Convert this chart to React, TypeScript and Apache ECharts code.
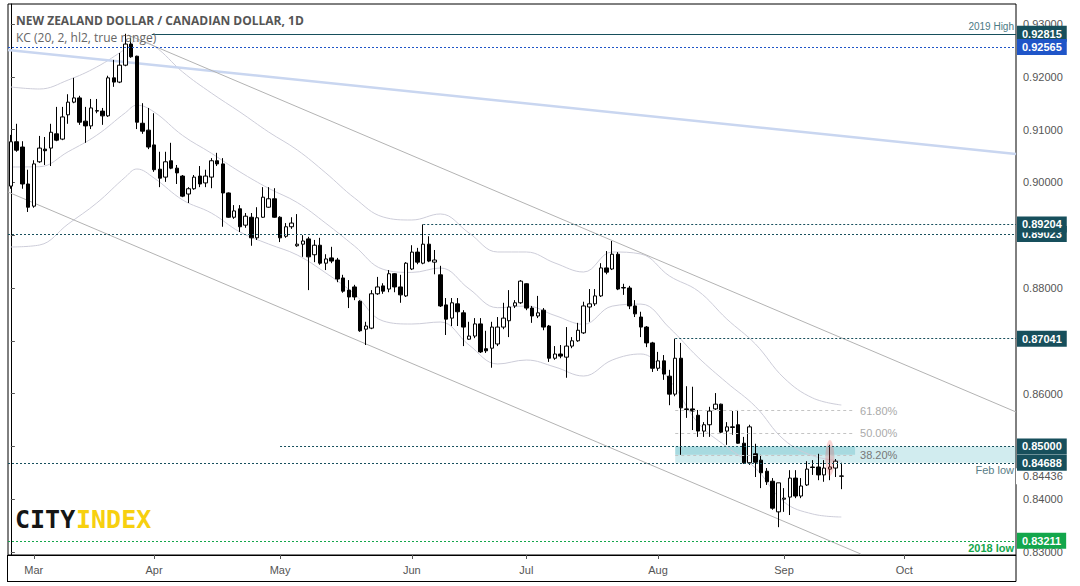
import React, { useEffect, useRef } from 'react';
import * as echarts from 'echarts';

// ---------- OHLC (daily, from Mon 25 Feb 2019) ----------
const OPEN = [
  0.8993, 0.9077, 0.9067, 0.8997, 0.8955, 0.9039, 0.9063, 0.9065, 0.9092, 0.9082,
  0.9128, 0.9152, 0.9160, 0.9116, 0.9107, 0.9135, 0.9135, 0.9126, 0.9198, 0.9190,
  0.9222, 0.9262, 0.9239, 0.9112, 0.9099, 0.9071, 0.9025, 0.9010, 0.9041, 0.9027,
  0.9012, 0.8978, 0.8988, 0.9012, 0.8999, 0.9010, 0.9041, 0.9035, 0.8980, 0.8934,
  0.8950, 0.8919, 0.8934, 0.8895, 0.8934, 0.8953, 0.8969, 0.8934, 0.8898, 0.8916,
  0.8880, 0.8883, 0.8893, 0.8863, 0.8881, 0.8847, 0.8857, 0.8853, 0.8819, 0.8796,
  0.8802, 0.8775, 0.8722, 0.8724, 0.8789, 0.8804, 0.8798, 0.8827, 0.8802, 0.8785,
  0.8836, 0.8868, 0.8847, 0.8883, 0.8849, 0.8825, 0.8768, 0.8743, 0.8770, 0.8753,
  0.8703, 0.8709, 0.8732, 0.8685, 0.8686, 0.8694, 0.8726, 0.8738, 0.8766, 0.8772,
  0.8808, 0.8762, 0.8747, 0.8758, 0.8728, 0.8667, 0.8675, 0.8669, 0.8690, 0.8700,
  0.8715, 0.8764, 0.8770, 0.8785, 0.8838, 0.8836, 0.8864, 0.8800, 0.8800, 0.8766,
  0.8745, 0.8726, 0.8696, 0.8648, 0.8662, 0.8633, 0.8599, 0.8667, 0.8571, 0.8571,
  0.8559, 0.8529, 0.8541, 0.8571, 0.8580, 0.8529, 0.8537, 0.8541, 0.8506, 0.8469,
  0.8486, 0.8474, 0.8453, 0.8434, 0.8376, 0.8400, 0.8404, 0.8440, 0.8406, 0.8427,
  0.8461, 0.8461, 0.8446, 0.8457, 0.8459, 0.8444,
];
const HIGH = [
  0.9090, 0.9111, 0.9078, 0.9024, 0.9042, 0.9088, 0.9086, 0.9111, 0.9143, 0.9143,
  0.9167, 0.9198, 0.9164, 0.9143, 0.9158, 0.9158, 0.9141, 0.9202, 0.9232, 0.9245,
  0.92815, 0.9273, 0.9240, 0.9150, 0.9141, 0.9131, 0.9058, 0.9058, 0.9075, 0.9033,
  0.9014, 0.8991, 0.9014, 0.9031, 0.9024, 0.9046, 0.9056, 0.9046, 0.8981, 0.8957,
  0.8957, 0.8942, 0.8942, 0.8953, 0.8991, 0.8991, 0.8989, 0.8936, 0.8923, 0.8934,
  0.8940, 0.8900, 0.8897, 0.8891, 0.8895, 0.8864, 0.8878, 0.8857, 0.8825, 0.8815,
  0.8806, 0.8777, 0.8736, 0.8796, 0.8821, 0.8809, 0.8834, 0.8828, 0.8825, 0.8849,
  0.8881, 0.8876, 0.89204, 0.8898, 0.8872, 0.8842, 0.8781, 0.8781, 0.8781, 0.8758,
  0.8736, 0.8743, 0.8743, 0.8719, 0.8736, 0.8745, 0.8772, 0.8796, 0.8777, 0.8815,
  0.8809, 0.8766, 0.8785, 0.8762, 0.8730, 0.8690, 0.8692, 0.8726, 0.8707, 0.8734,
  0.8774, 0.8798, 0.8798, 0.8847, 0.8870, 0.8889, 0.8868, 0.8808, 0.8804, 0.8777,
  0.8755, 0.8728, 0.8698, 0.8679, 0.8673, 0.8645, 0.87041, 0.8696, 0.8614, 0.8613,
  0.8569, 0.8546, 0.8575, 0.8601, 0.8581, 0.8546, 0.8567, 0.8569, 0.8518, 0.8541,
  0.8505, 0.8484, 0.8459, 0.8440, 0.8431, 0.8421, 0.8455, 0.8455, 0.8440, 0.8472,
  0.8474, 0.8486, 0.8474, 0.8503, 0.8476, 0.8469,
];
const LOW = [
  0.8988, 0.9058, 0.8988, 0.8944, 0.8952, 0.9037, 0.9033, 0.9031, 0.9078, 0.9080,
  0.9111, 0.9150, 0.9109, 0.9075, 0.9101, 0.9131, 0.9109, 0.9124, 0.9181, 0.9188,
  0.9220, 0.9236, 0.9101, 0.9092, 0.9063, 0.9020, 0.8991, 0.9001, 0.9025, 0.8997,
  0.8972, 0.8961, 0.8986, 0.8991, 0.8991, 0.8989, 0.9031, 0.8916, 0.8933, 0.8931,
  0.8906, 0.8914, 0.8880, 0.8891, 0.8933, 0.8952, 0.8933, 0.8887, 0.8895, 0.8912,
  0.8878, 0.8859, 0.8796, 0.8849, 0.8844, 0.8834, 0.8847, 0.8811, 0.8791, 0.8762,
  0.8777, 0.8717, 0.8692, 0.8722, 0.8787, 0.8789, 0.8792, 0.8792, 0.8772, 0.8783,
  0.8834, 0.8845, 0.8845, 0.8849, 0.8826, 0.8764, 0.8711, 0.8728, 0.8728, 0.8690,
  0.8702, 0.8705, 0.8677, 0.8677, 0.8649, 0.8690, 0.8722, 0.8707, 0.8762, 0.8770,
  0.8758, 0.8734, 0.8743, 0.8720, 0.8660, 0.8664, 0.8667, 0.8630, 0.8686, 0.8698,
  0.8713, 0.8736, 0.8766, 0.8783, 0.8826, 0.8834, 0.8796, 0.8787, 0.8760, 0.8745,
  0.8707, 0.8688, 0.8641, 0.8643, 0.8626, 0.8578, 0.8595, 0.8484, 0.8554, 0.8531,
  0.8518, 0.8518, 0.8518, 0.8569, 0.8525, 0.8503, 0.8522, 0.8505, 0.8467, 0.8465,
  0.8442, 0.8421, 0.8427, 0.8380, 0.8347, 0.8376, 0.8370, 0.8402, 0.8402, 0.8425,
  0.8446, 0.8436, 0.8433, 0.8436, 0.8442, 0.8419,
];
const CLOSE = [
  0.9077, 0.9061, 0.8997, 0.8953, 0.9035, 0.9065, 0.9060, 0.9095, 0.9080, 0.9124,
  0.9152, 0.9160, 0.9114, 0.9107, 0.9141, 0.9136, 0.9126, 0.9198, 0.9190, 0.9222,
  0.9262, 0.9238, 0.9114, 0.9097, 0.9067, 0.9024, 0.9008, 0.9039, 0.9027, 0.9018,
  0.8974, 0.8988, 0.9010, 0.8997, 0.9012, 0.9041, 0.9035, 0.8980, 0.8934, 0.8946,
  0.8916, 0.8936, 0.8895, 0.8933, 0.8972, 0.8969, 0.8934, 0.8895, 0.8916, 0.8923,
  0.8883, 0.8889, 0.8859, 0.8881, 0.8847, 0.8855, 0.8851, 0.8817, 0.8794, 0.8783,
  0.8783, 0.8719, 0.8728, 0.8789, 0.8802, 0.8794, 0.8827, 0.8802, 0.8787, 0.8847,
  0.8868, 0.8849, 0.8883, 0.8851, 0.8853, 0.8766, 0.8741, 0.8772, 0.8755, 0.8726,
  0.8709, 0.8732, 0.8679, 0.8681, 0.8726, 0.8726, 0.8743, 0.8764, 0.8772, 0.8813,
  0.8762, 0.8747, 0.8753, 0.8726, 0.8667, 0.8675, 0.8671, 0.8690, 0.8700, 0.8720,
  0.8766, 0.8770, 0.8785, 0.8838, 0.8830, 0.8864, 0.8798, 0.8801, 0.8766, 0.8751,
  0.8726, 0.8696, 0.8648, 0.8662, 0.8637, 0.8599, 0.8667, 0.8573, 0.8570, 0.8567,
  0.8529, 0.8541, 0.8567, 0.8580, 0.8527, 0.8537, 0.8536, 0.8506, 0.8469, 0.8537,
  0.8470, 0.8450, 0.8433, 0.8383, 0.8431, 0.8402, 0.8440, 0.8406, 0.8425, 0.8457,
  0.8460, 0.8446, 0.8459, 0.8461, 0.8472, 0.84436,
];

// ---------- Keltner channel, read at bar positions ----------
const KC_BAR = [0, 5, 10, 15, 20, 22, 25, 30, 35, 40, 45, 50, 55, 60, 65, 70, 75, 80, 85, 90, 95, 100, 105, 110, 115, 120, 125, 130, 135, 140, 145];
const KC_UPPER = [0.91807, 0.91769, 0.91939, 0.92186, 0.92527, 0.92678, 0.92583, 0.92091, 0.91693, 0.91333, 0.90955, 0.90614, 0.90178, 0.89705, 0.89345, 0.89288, 0.89402, 0.89042, 0.88682, 0.88682, 0.88473, 0.88303, 0.88682, 0.88644, 0.88227, 0.87943, 0.87413, 0.86939, 0.86295, 0.85917, 0.85784];
const KC_MID = [0.90292, 0.90297, 0.90581, 0.90894, 0.91320, 0.91462, 0.91335, 0.90888, 0.90553, 0.90199, 0.89888, 0.89619, 0.89225, 0.88794, 0.88354, 0.88295, 0.88379, 0.87985, 0.87627, 0.87659, 0.87479, 0.87313, 0.87657, 0.87695, 0.87244, 0.86686, 0.86208, 0.85756, 0.85125, 0.84824, 0.84722];
const KC_LOWER = [0.88777, 0.88814, 0.89212, 0.89610, 0.90102, 0.90254, 0.90083, 0.89667, 0.89420, 0.89061, 0.88833, 0.88625, 0.88284, 0.87886, 0.87375, 0.87318, 0.87356, 0.86920, 0.86561, 0.86636, 0.86504, 0.86333, 0.86636, 0.86750, 0.86258, 0.85443, 0.84989, 0.84591, 0.83947, 0.83720, 0.83663];

// ---------- trend lines: [bar position, price] ----------
const BLUE_TREND = [[-0.5, 0.92508], [175.5, 0.90538]];
const CHANNEL_UPPER = [[20.45, 0.92792], [175.5, 0.85652]];
const CHANNEL_LOWER = [[-0.5, 0.89818], [148.4, 0.82962]];

// ---------- horizontal levels ----------
const LEVEL_PRICES = [0.92815, 0.92565, 0.89023, 0.89204, 0.87041, 0.85000, 0.84436, 0.84688, 0.83211];
const LEVEL_FROM = [24.6, -0.5, -0.5, 72, 116, 47, 174, -0.5, -0.5];
const NOTE_TEXT = ['2019 High', 'Feb low', '2018 low'];
const NOTE_PRICE = [0.92815, 0.84688, 0.83211];

// ---------- Fibonacci retracement ----------
const FIB_HIGH = 0.87041;
const FIB_LOW = 0.83474;
const FIB_RATIOS = [0.618, 0.5, 0.382];
const FIB_FROM = 116;
const FIB_TO = 147.4;

// ---------- zone, highlight ----------
const ZONE = [0.85, 0.84688];
const ZONE_INNER = [0.85, 0.8484];
const HIGHLIGHT = [143, 0.8478];

const MONTH_TICKS = ['Mar', 'Apr', 'May', 'Jun', 'Jul', 'Aug', 'Sep', 'Oct'];
const Y_TICKS = [0.83, 0.84, 0.85, 0.86, 0.87, 0.88, 0.89, 0.90, 0.91, 0.92, 0.93];

const N_SLOTS = 176;
const Y_MIN = 0.829432;
const Y_MAX = 0.933788;

function buildSlots() {
  const cats: string[] = [];
  const monthIdx: number[] = [];
  let t = Date.UTC(2019, 1, 25);
  let prev = 1;
  let k = -1;
  while (cats.length < N_SLOTS) {
    const d = new Date(t);
    const wd = d.getUTCDay();
    if (wd !== 0 && wd !== 6) {
      const m = d.getUTCMonth();
      cats.push(`2019-${m + 1}-${d.getUTCDate()}`);
      if (m !== prev) {
        k += 1;
        monthIdx.push(k);
      } else {
        monthIdx.push(-1);
      }
      prev = m;
    }
    t += 86400000;
  }
  return { cats, monthIdx };
}

const TEAL = '#174f5c';
const BLUE = '#1f55c8';
const GREEN = '#13a64b';
const CLEAR = 'rgba(0,0,0,0)';
const FONT = '"Liberation Sans", Arial, sans-serif';

export default function App() {
  const ref = useRef<HTMLDivElement>(null);

  useEffect(() => {
    if (!ref.current) return;
    const chart = echarts.init(ref.current, undefined, { renderer: 'svg' });
    const { cats, monthIdx } = buildSlots();

    const candles = OPEN.map((o, i) => [o, CLOSE[i], LOW[i], HIGH[i]]);
    const kcU = KC_BAR.map((b, i) => [b, KC_UPPER[i]]);
    const kcM = KC_BAR.map((b, i) => [b, KC_MID[i]]);
    const kcL = KC_BAR.map((b, i) => [b, KC_LOWER[i]]);

    const boxStyle: Record<number, any> = {
      0: { bg: TEAL, line: TEAL, solid: true },
      1: { bg: BLUE, line: BLUE },
      2: { bg: TEAL, line: TEAL },
      3: { bg: TEAL, line: TEAL },
      4: { bg: TEAL, line: TEAL },
      5: { bg: TEAL, line: TEAL },
      6: { bg: '#ffffff', line: CLEAR, plain: true },
      7: { bg: TEAL, line: TEAL },
      8: { bg: GREEN, line: GREEN },
    };

    const levelLines: any[] = LEVEL_PRICES.map((p, i) => {
      const st = boxStyle[i];
      return [
        {
          coord: [LEVEL_FROM[i], p],
          lineStyle: {
            color: st.line,
            width: 1,
            type: st.solid ? 'solid' : [2, 2],
          },
          label: {
            show: true,
            position: 'end',
            distance: st.plain ? 0 : 1,
            formatter: p.toFixed(5),
            color: st.plain ? '#555' : '#fff',
            backgroundColor: st.bg,
            padding: st.plain ? [2, 4, 1, 7] : [2, 5, 1, 5],
            fontSize: 11,
            lineHeight: 13,
            fontWeight: st.plain ? 'normal' : 'bold',
            fontFamily: FONT,
          },
        },
        { coord: [N_SLOTS - 0.5, p] },
      ];
    });

    const noteColors = ['#4c7a85', '#5a7d86', GREEN];
    const notePos = ['insideEndTop', 'insideEndBottom', 'insideEndBottom'];
    const noteLines: any[] = NOTE_TEXT.map((txt, i) => [
      {
        coord: [N_SLOTS - 12, NOTE_PRICE[i]],
        lineStyle: { color: CLEAR, width: 1 },
        label: {
          show: true,
          position: notePos[i],
          formatter: txt,
          color: noteColors[i],
          fontSize: i === 0 ? 10 : 11,
          fontWeight: i === 2 ? 'bold' : 'normal',
          fontFamily: FONT,
          distance: 2,
        },
      },
      { coord: [N_SLOTS - 0.5, NOTE_PRICE[i]] },
    ]);

    const fibLines: any[] = FIB_RATIOS.map((r) => {
      const lvl = FIB_LOW + r * (FIB_HIGH - FIB_LOW);
      return [
        {
          coord: [FIB_FROM, lvl],
          lineStyle: { color: '#c4c4c4', width: 1, type: [3, 3] },
          label: {
            show: true,
            position: 'end',
            distance: 5,
            formatter: (r * 100).toFixed(2) + '%',
            color: r === 0.382 ? '#777' : '#aaa',
            fontSize: 11,
            fontFamily: FONT,
            padding: [0, 0, 11, 0],
          },
        },
        { coord: [FIB_TO, lvl] },
      ];
    });

    const option: any = {
      animation: false,
      backgroundColor: '#ffffff',
      grid: {
        left: 8,
        right: 64,
        top: 4,
        bottom: 31,
        show: true,
        borderColor: '#000',
        borderWidth: 1,
        backgroundColor: '#ffffff',
      },
      xAxis: [
        {
          type: 'category',
          data: cats,
          boundaryGap: true,
          axisLine: { show: true, lineStyle: { color: '#000', width: 1 } },
          axisTick: {
            show: true,
            alignWithLabel: true,
            length: 4,
            interval: (i: number) => monthIdx[i] >= 0,
            lineStyle: { color: '#555' },
          },
          axisLabel: {
            interval: (i: number) => monthIdx[i] >= 0,
            formatter: (_v: string, i: number) => (monthIdx[i] >= 0 ? MONTH_TICKS[monthIdx[i]] : ''),
            color: '#555',
            fontSize: 11,
            fontFamily: FONT,
            margin: 9,
          },
          splitLine: { show: false },
        },
        {
          type: 'value',
          min: -0.5,
          max: N_SLOTS - 0.5,
          show: false,
          splitLine: { show: false },
        },
      ],
      yAxis: {
        type: 'value',
        position: 'right',
        min: Y_MIN,
        max: Y_MAX,
        scale: true,
        axisLine: { show: true, lineStyle: { color: '#000', width: 1 } },
        axisTick: { show: true, length: 4, customValues: Y_TICKS, lineStyle: { color: '#555' } },
        axisLabel: {
          customValues: Y_TICKS,
          formatter: (v: number) => v.toFixed(5),
          color: '#555',
          fontSize: 11,
          fontFamily: FONT,
          margin: 7,
        },
        splitLine: { show: false },
      },
      series: [
        ...[kcU, kcM, kcL].map((d) => ({
          type: 'line',
          xAxisIndex: 1,
          data: d,
          smooth: 0.4,
          symbol: 'none',
          lineStyle: { color: '#cdcdd9', width: 1 },
          silent: true,
          z: 1,
        })),
        {
          type: 'line',
          xAxisIndex: 1,
          data: BLUE_TREND,
          symbol: 'none',
          lineStyle: { color: '#c9d6f0', width: 2.5 },
          silent: true,
          z: 1,
        },
        ...[CHANNEL_UPPER, CHANNEL_LOWER].map((d) => ({
          type: 'line',
          xAxisIndex: 1,
          data: d,
          symbol: 'none',
          lineStyle: { color: '#b3b3b3', width: 1 },
          silent: true,
          z: 1,
        })),
        {
          name: 'NZDCAD',
          type: 'candlestick',
          xAxisIndex: 0,
          data: candles,
          barWidth: 4,
          itemStyle: {
            color: '#ffffff',
            color0: '#000000',
            borderColor: '#000000',
            borderColor0: '#000000',
            borderWidth: 1,
          },
          silent: true,
          z: 2,
        },
        {
          name: 'annotations',
          type: 'line',
          xAxisIndex: 1,
          data: [],
          silent: true,
          z: 3,
          markArea: {
            silent: true,
            data: [
              [
                { coord: [FIB_FROM, ZONE[0]], itemStyle: { color: 'rgba(0,150,165,0.18)' } },
                { coord: [N_SLOTS - 0.5, ZONE[1]] },
              ],
              [
                { coord: [FIB_FROM, ZONE_INNER[0]], itemStyle: { color: 'rgba(0,150,165,0.2)' } },
                { coord: [FIB_TO, ZONE_INNER[1]] },
              ],
            ],
          },
          markLine: {
            silent: true,
            symbol: ['none', 'none'],
            data: [...fibLines, ...noteLines, ...levelLines],
          },
        },
        {
          type: 'scatter',
          xAxisIndex: 1,
          data: [HIGHLIGHT],
          symbol: 'circle',
          symbolSize: [9, 36],
          itemStyle: { color: 'rgba(235,85,85,0.32)' },
          silent: true,
          z: 4,
        },
      ],
      graphic: [
        {
          type: 'polyline',
          shape: { points: [[1016, 555.5], [1016, 581.5], [7.5, 581.5]] },
          style: { fill: null, stroke: '#000', lineWidth: 1 },
          silent: true,
          z: 10,
        },
        {
          type: 'line',
          shape: { x1: 7.5, y1: 555, x2: 7.5, y2: 582 },
          style: { stroke: '#000', lineWidth: 1 },
          silent: true,
          z: 10,
        },
        {
          type: 'text',
          x: 16,
          y: 14,
          style: {
            text: 'NEW ZEALAND DOLLAR / CANADIAN DOLLAR, 1D',
            fill: '#555',
            font: 'bold 12px "Open Sans", sans-serif',
          },
          silent: true,
          z: 10,
        },
        {
          type: 'text',
          x: 16,
          y: 31,
          style: {
            text: 'KC (20, 2, hl2, true range)',
            fill: '#666',
            font: '12px "Open Sans", sans-serif',
          },
          silent: true,
          z: 10,
        },
        {
          type: 'text',
          x: 15,
          y: 507,
          style: { text: 'CITY', fill: '#151515', font: 'bold 25px "DejaVu Sans Mono", monospace' },
          silent: true,
          z: 10,
        },
        {
          type: 'text',
          x: 76,
          y: 507,
          style: { text: 'INDEX', fill: '#f7d00f', font: 'bold 25px "DejaVu Sans Mono", monospace' },
          silent: true,
          z: 10,
        },
      ],
    };

    chart.setOption(option);
    return () => chart.dispose();
  }, []);

  return (
    <div
      ref={ref}
      style={{ position: 'fixed', left: 0, top: 0, width: 1080, height: 586, background: '#fff' }}
    />
  );
}
